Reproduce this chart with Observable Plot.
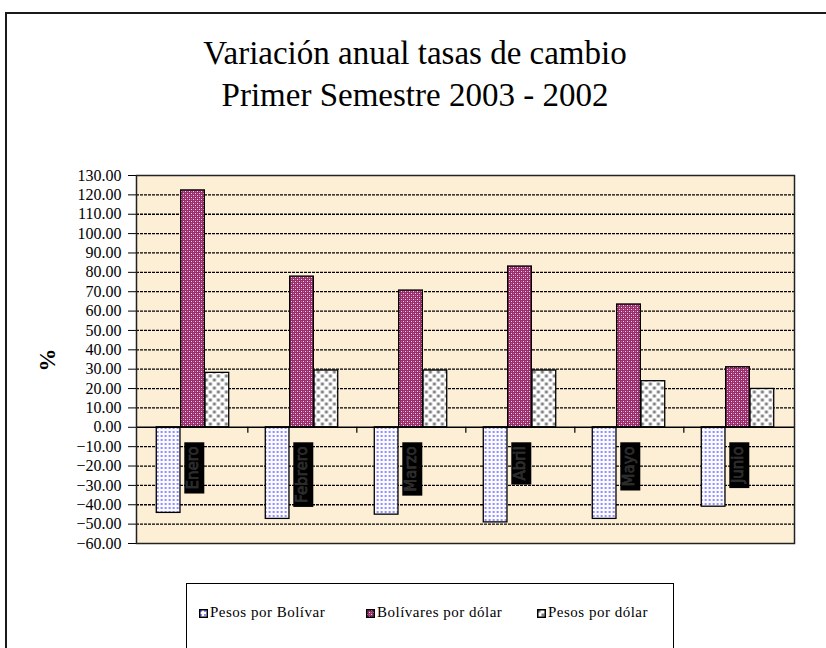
<!DOCTYPE html>
<html><head><meta charset="utf-8">
<script src="https://cdn.jsdelivr.net/npm/d3@7"></script>
<script src="https://cdn.jsdelivr.net/npm/@observablehq/plot@0.6"></script>
<style>
body{margin:0;background:#fff;width:826px;height:648px;overflow:hidden;position:relative;font-family:"Liberation Serif",serif}
#frame{position:absolute;left:5px;top:12px;width:840px;height:660px;border-left:2px solid #1a1a1a;border-top:2px solid #1a1a1a}
#title{position:absolute;left:0;width:830px;top:32px;text-align:center;font-size:33px;line-height:42px;color:#000}
#chart{position:absolute;left:0;top:150px}
#ylabel{position:absolute;left:48px;top:360px;transform:translate(-50%,-50%) rotate(-90deg);font-weight:bold;font-size:23px}
#legend{position:absolute;left:186px;top:583px;width:486px;height:80px;border:1.5px solid #000;border-bottom:none}
.item{position:absolute;top:603px;font-size:15px;line-height:18px;letter-spacing:0.5px;white-space:nowrap;color:#000}
.item svg{vertical-align:-1px;margin-right:2px}
</style></head>
<body>
<svg width="0" height="0" style="position:absolute">
  <defs>
    <pattern id="pat0" width="4" height="4" patternUnits="userSpaceOnUse">
      <rect width="4" height="4" fill="#fafaff"/>
      <circle cx="2" cy="2" r="0.9" fill="#5a5aff"/>
    </pattern>
    <pattern id="pat1" width="4" height="4" patternUnits="userSpaceOnUse">
      <rect width="4" height="4" fill="#9a2d6c"/>
      <rect x="1" y="1" width="1" height="1" fill="#f8d8ee"/>
      <rect x="3" y="3" width="1" height="1" fill="#f8d8ee"/>
      <rect x="3" y="1" width="1" height="1" fill="#c06a9c"/>
      <rect x="1" y="3" width="1" height="1" fill="#c06a9c"/>
    </pattern>
    <pattern id="pat2" width="8" height="8" patternUnits="userSpaceOnUse">
      <rect width="8" height="8" fill="#ffffff"/>
      <rect x="0.5" y="0.5" width="3" height="3" fill="#808080"/>
      <rect x="4.5" y="4.5" width="3" height="3" fill="#808080"/>
    </pattern>
  </defs>
</svg>
<div id="frame"></div>
<div id="title">Variación anual tasas de cambio<br>Primer Semestre 2003 - 2002</div>
<div id="ylabel">%</div>
<div id="chart"></div>
<div id="legend"></div>
<script>
const months = ["Enero", "Febrero", "Marzo", "Abril", "Mayo", "Junio"];
const seriesNames = ["Pesos por Bolívar", "Bolívares por dólar", "Pesos por dólar"];
const pesosPorBolivar = [-44.2, -47.3, -45.1, -49.1, -47.3, -41.0];
const bolivaresPorDolar = [122.3, 77.8, 70.6, 83.0, 63.4, 31.0];
const pesosPorDolar = [28.1, 29.3, 29.3, 29.3, 23.8, 19.8];
const yTicks = [-60, -50, -40, -30, -20, -10, 0, 10, 20, 30, 40, 50, 60, 70, 80, 90, 100, 110, 120, 130];

const seriesValues = [pesosPorBolivar, bolivaresPorDolar, pesosPorDolar];
const patterns = ["url(#pat0)", "url(#pat1)", "url(#pat2)"];

const W = 826, H = 410, mL = 136, mR = 32, mT = 25, mB = 17;
const bw = (W - mL - mR) / months.length;
const barW = bw / 4.5;
const inset = (bw - barW) / 2;

const rows = months.map((m, i) => ({month: m, i}));

const barMarks = seriesValues.map((vals, k) =>
  Plot.barY(rows, {
    x: "month", y1: 0, y2: d => vals[d.i],
    fill: patterns[k], stroke: "#000", strokeWidth: 1.3,
    insetLeft: inset, insetRight: inset, dx: (k - 1) * barW
  })
);

const svg = Plot.plot({
  width: W, height: H,
  marginLeft: mL, marginRight: mR, marginTop: mT, marginBottom: mB,
  style: {background: "transparent", fontFamily: "Liberation Serif", fontSize: "16px", color: "#000"},
  x: {domain: months, padding: 0, axis: null},
  y: {domain: [-60, 130], ticks: yTicks, tickFormat: d3.format(".2f"), tickSize: 8, tickPadding: 7, label: null},
  marks: [
    Plot.frame({fill: "#fcefd6", stroke: "none"}),
    Plot.ruleY(yTicks.filter(v => v !== 0 && v !== -60 && v !== 130), {stroke: "#000", strokeWidth: 1.3, strokeDasharray: "3,1"}),
    ...barMarks,
    Plot.ruleY([0], {stroke: "#000", strokeWidth: 1.5}),
    Plot.ruleX(months.slice(0, -1), {x: d => d, y1: 0, y2: -3.1, dx: bw / 2, stroke: "#000", strokeWidth: 1.2}),
    Plot.text(months, {x: d => d, y: 0, text: d => d, rotate: -90, textAnchor: "end", dy: 19,
      fontFamily: "DejaVu Sans", fontSize: 15, fill: "#2c2c2c", stroke: "#474747", strokeWidth: 0.5}),
    Plot.frame({stroke: "#222", strokeWidth: 1.5})
  ]
});
document.getElementById("chart").appendChild(svg);

const monthTexts = new Set(d3.select(svg).selectAll('g[aria-label="text"] text').nodes());
d3.select(svg).selectAll("text").each(function () {
  if (monthTexts.has(this)) {
    this.style.fontFamily = "'DejaVu Sans', sans-serif";
    this.style.fontSize = "15px";
  } else {
    this.style.fontFamily = "'Liberation Serif', serif";
    this.style.fontSize = "16px";
    this.style.fill = "#000";
  }
});

// black boxes behind the rotated month labels
monthTexts.forEach(node => {
  const bb = node.getBBox();
  const r = document.createElementNS("http://www.w3.org/2000/svg", "rect");
  r.setAttribute("x", bb.x - 4);
  r.setAttribute("y", bb.y + 0.5);
  r.setAttribute("width", bb.width + 8);
  r.setAttribute("height", bb.height + 2);
  const t = node.getAttribute("transform");
  if (t) r.setAttribute("transform", t);
  r.setAttribute("fill", "#000");
  r.setAttribute("stroke", "none");
  node.parentNode.insertBefore(r, node);
});

// legend
const legendX = [[199, 208], [366, 377], [537, 547]];
seriesNames.forEach((name, k) => {
  const div = document.createElement("div");
  div.className = "item";
  div.style.left = legendX[k][0] + "px";
  div.innerHTML = `<svg width="9" height="9"><rect x="0.75" y="0.75" width="7.5" height="7.5" fill="${patterns[k]}" stroke="#000" stroke-width="1.5"/></svg>` + name;
  document.body.appendChild(div);
});
</script>
</body></html>
